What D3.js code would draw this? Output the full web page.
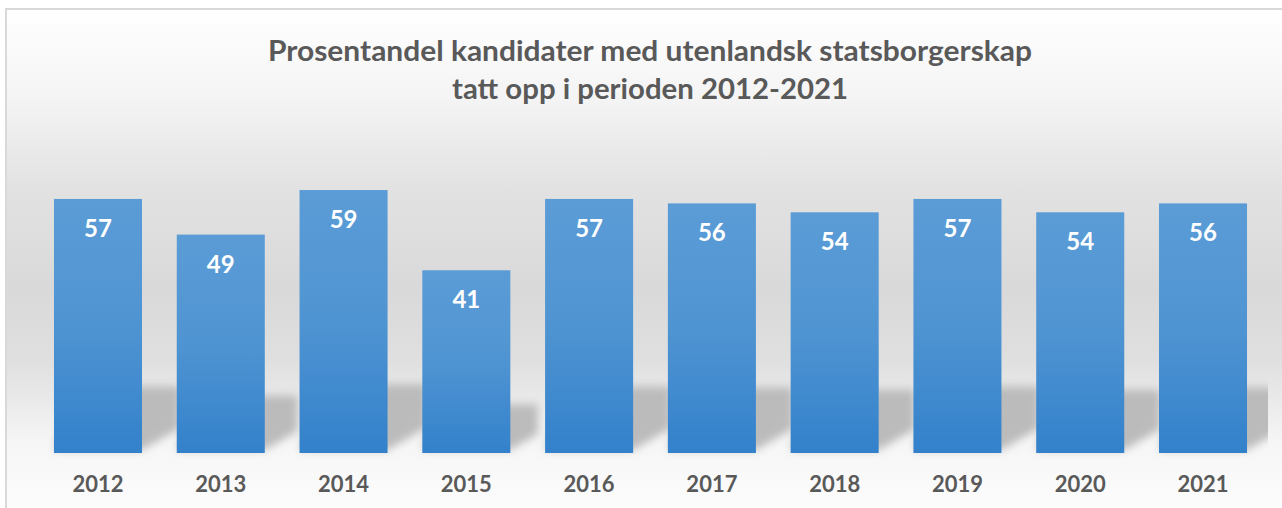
<!DOCTYPE html>
<html>
<head>
<meta charset="utf-8">
<script src="https://cdn.jsdelivr.net/npm/d3@7"></script>
<style>
  html, body { margin: 0; padding: 0; background: #ffffff; }
  svg { display: block; }
</style>
</head>
<body>
<svg id="chart" width="1282" height="508"></svg>
<script>
// ---- data ----
const years = ["2012", "2013", "2014", "2015", "2016", "2017", "2018", "2019", "2020", "2021"];
const values = [57, 49, 59, 41, 57, 56, 54, 57, 54, 56];
const titleLines = ["Prosentandel kandidater med utenlandsk statsborgerskap", "tatt opp i perioden 2012-2021"];

const W = 1282, H = 508;
const svg = d3.select("#chart");
const defs = svg.append("defs");

// background gradient
const bg = defs.append("linearGradient").attr("id", "bgGrad")
  .attr("gradientUnits", "userSpaceOnUse").attr("x1", 0).attr("y1", 9).attr("x2", 0).attr("y2", 508);
[[0, "#ffffff"], [0.18, "#f4f4f4"], [0.36, "#e2e2e2"], [0.56, "#d9d9d9"], [0.70, "#dfdfdf"],
 [0.78, "#e9e9e9"], [0.87, "#f6f6f6"], [1, "#fcfcfc"]]
  .forEach(([o, c]) => bg.append("stop").attr("offset", o).attr("stop-color", c));

// bar gradient
const bGrad = defs.append("linearGradient").attr("id", "barGrad")
  .attr("x1", 0).attr("y1", 0).attr("x2", 0).attr("y2", 1);
bGrad.append("stop").attr("offset", 0).attr("stop-color", "#5b9cd6");
bGrad.append("stop").attr("offset", 0.5).attr("stop-color", "#4f94d2");
bGrad.append("stop").attr("offset", 1).attr("stop-color", "#3381cb");

const blur = defs.append("filter").attr("id", "shadowBlur")
  .attr("x", "-30%").attr("y", "-30%").attr("width", "160%").attr("height", "160%");
blur.append("feGaussianBlur").attr("stdDeviation", 4);

defs.append("clipPath").attr("id", "plotClip")
  .append("rect").attr("x", 8).attr("y", 100).attr("width", 1260).attr("height", 360);

// chart area
svg.append("rect").attr("x", 6).attr("y", 9).attr("width", W + 20).attr("height", H + 20)
  .attr("fill", "url(#bgGrad)").attr("stroke", "#d9d9d9").attr("stroke-width", 2);

// scales
const x = d3.scaleBand().domain(years).range([36.6, 1264.4]).paddingInner(0.283).paddingOuter(0.1415);
const y = d3.scaleLinear().domain([0, 70]).range([453, 141]);

const data = years.map((yr, i) => ({ yr, v: values[i] }));

// shadows (perspective-like skew behind bars)
const shadowG = svg.append("g").attr("clip-path", "url(#plotClip)")
  .append("g").attr("filter", "url(#shadowBlur)");
shadowG.selectAll("path").data(data).join("path")
  .attr("d", d => {
    const x0 = x(d.yr), x1 = x0 + x.bandwidth();
    const b = y(0) - 3;
    const h = (y(0) - y(d.v)) * 0.25;
    const dx = h * 0.6;
    return `M${x0},${b} L${x1},${b} L${x1 + dx},${b - h * 0.35} L${x1 + dx},${b - h} L${x0 + dx * 0.5},${b - h} Z`;
  })
  .attr("fill", "#bbbbbb");

// bars
svg.append("g").selectAll("rect").data(data).join("rect")
  .attr("x", d => x(d.yr))
  .attr("y", d => y(d.v))
  .attr("width", x.bandwidth())
  .attr("height", d => y(0) - y(d.v))
  .attr("fill", "url(#barGrad)");

// value labels
svg.append("g").selectAll("text").data(data).join("text")
  .attr("x", d => x(d.yr) + x.bandwidth() / 2)
  .attr("y", d => y(d.v) + 38)
  .attr("text-anchor", "middle")
  .attr("font-family", "Lato, 'Open Sans', sans-serif")
  .attr("font-weight", 700)
  .attr("font-size", 24)
  .attr("fill", "#ffffff")
  .text(d => d.v);

// x axis labels
const axis = d3.axisBottom(x).tickSize(0).tickPadding(0);
const ax = svg.append("g").attr("transform", `translate(0,${y(0)})`).call(axis);
ax.select(".domain").remove();
ax.selectAll("text")
  .attr("y", 39)
  .attr("dy", 0)
  .attr("font-family", "Lato, 'Open Sans', sans-serif")
  .attr("font-weight", 700)
  .attr("font-size", 22)
  .attr("fill", "#595959");

// title
const tw = [764, 396];
svg.append("g").selectAll("text").data(titleLines).join("text")
  .attr("x", 650)
  .attr("y", (d, i) => 61 + i * 38)
  .attr("text-anchor", "middle")
  .attr("font-family", "Lato, 'Open Sans', sans-serif")
  .attr("font-weight", 700)
  .attr("font-size", 29)
  .attr("fill", "#595959")
  .attr("textLength", (d, i) => tw[i])
  .attr("lengthAdjust", "spacingAndGlyphs")
  .text(d => d);
</script>
</body>
</html>
